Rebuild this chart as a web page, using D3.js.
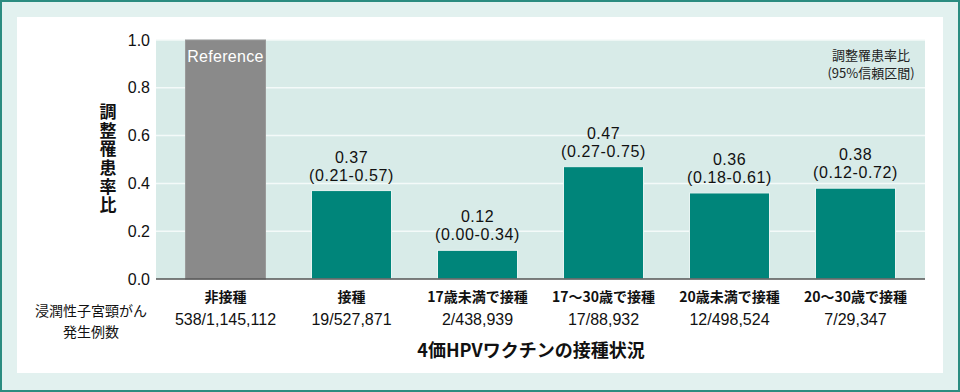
<!DOCTYPE html>
<html>
<head>
<meta charset="utf-8">
<script src="https://cdn.jsdelivr.net/npm/d3@7"></script>
<style>
  body { margin: 0; background: #fff; }
  svg { display: block; font-family: "Liberation Sans", "Noto Sans CJK JP", sans-serif; }
</style>
</head>
<body>
<svg id="chart" width="960" height="392"></svg>
<script>
const categories = ["非接種", "接種", "17歳未満で接種", "17〜30歳で接種", "20歳未満で接種", "20〜30歳で接種"];
const ratios = [1.0, 0.37, 0.12, 0.47, 0.36, 0.38];
const ciLabels = ["", "(0.21-0.57)", "(0.00-0.34)", "(0.27-0.75)", "(0.18-0.61)", "(0.12-0.72)"];
const caseCounts = ["538/1,145,112", "19/527,871", "2/438,939", "17/88,932", "12/498,524", "7/29,347"];
const yTicks = [0, 0.2, 0.4, 0.6, 0.8, 1.0];

const plot = { left: 156, right: 925, top: 40, bottom: 279 };
const jp = '"Noto Sans CJK JP", sans-serif';

const svg = d3.select("#chart");

// frame
svg.append("rect").attr("x", 1).attr("y", 1).attr("width", 958).attr("height", 390)
    .attr("fill", "#e2f1ef").attr("stroke", "#2b8c80").attr("stroke-width", 2);
svg.append("rect").attr("x", 17).attr("y", 17).attr("width", 926).attr("height", 356)
    .attr("fill", "#fff");

const x = d3.scaleBand()
    .domain(categories)
    .range([plot.left, plot.right])
    .paddingInner(0.365)
    .paddingOuter(0.234);

const y = d3.scaleLinear()
    .domain([0, 1])
    .range([plot.bottom, plot.top]);

// plot background
svg.append("rect")
    .attr("x", plot.left).attr("y", plot.top)
    .attr("width", plot.right - plot.left).attr("height", plot.bottom - plot.top)
    .attr("fill", "#d8ebe8");

// grid
svg.append("g").selectAll("line")
    .data(yTicks.slice(1))
    .enter().append("line")
    .attr("x1", plot.left).attr("x2", plot.right)
    .attr("y1", d => y(d)).attr("y2", d => y(d))
    .attr("stroke", "#f4faf9").attr("stroke-width", 1.5);

// y axis labels
const yAxis = d3.axisLeft(y).tickValues(yTicks).tickFormat(d3.format(".1f")).tickSize(0).tickPadding(6);
const yg = svg.append("g").attr("transform", `translate(${plot.left},0)`).call(yAxis);
yg.select(".domain").remove();
yg.selectAll("text").attr("font-size", 16).attr("fill", "#111")
    .attr("font-family", "Liberation Sans, sans-serif");

// bars
svg.append("g").selectAll("rect")
    .data(categories)
    .enter().append("rect")
    .attr("x", d => x(d))
    .attr("y", (d, i) => y(ratios[i]))
    .attr("width", x.bandwidth())
    .attr("height", (d, i) => plot.bottom - y(ratios[i]))
    .attr("fill", (d, i) => i === 0 ? "#8a8a8a" : "#00857a")
    .attr("stroke", (d, i) => i === 0 ? "#9a9a9a" : "#e8f4f2")
    .attr("stroke-width", 1);

// x axis line
svg.append("line")
    .attr("x1", plot.left).attr("x2", plot.right)
    .attr("y1", plot.bottom).attr("y2", plot.bottom)
    .attr("stroke", "#555").attr("stroke-width", 1.5);

// Reference text
svg.append("text")
    .attr("x", x(categories[0]) + x.bandwidth() / 2).attr("y", 62)
    .attr("text-anchor", "middle").attr("font-size", 16).attr("fill", "#fff")
    .attr("letter-spacing", 0.3)
    .text("Reference");

// value labels
const lab = svg.append("g").selectAll("g")
    .data(categories.slice(1))
    .enter().append("g");
lab.append("text")
    .attr("x", d => x(d) + x.bandwidth() / 2)
    .attr("y", (d, i) => y(ratios[i + 1]) - 28)
    .attr("text-anchor", "middle").attr("font-size", 16).attr("fill", "#111")
    .attr("letter-spacing", 0.5)
    .text((d, i) => ratios[i + 1].toFixed(2));
lab.append("text")
    .attr("x", d => x(d) + x.bandwidth() / 2)
    .attr("y", (d, i) => y(ratios[i + 1]) - 10)
    .attr("text-anchor", "middle").attr("font-size", 16).attr("fill", "#111")
    .attr("letter-spacing", 0.6)
    .text((d, i) => ciLabels[i + 1]);

// category labels
svg.append("g").selectAll("text")
    .data(categories)
    .enter().append("text")
    .attr("x", d => x(d) + x.bandwidth() / 2).attr("y", 302)
    .attr("text-anchor", "middle").attr("font-size", 14).attr("font-weight", "bold")
    .attr("font-family", jp).attr("fill", "#111")
    .text(d => d);

svg.append("g").selectAll("text")
    .data(categories)
    .enter().append("text")
    .attr("x", d => x(d) + x.bandwidth() / 2).attr("y", 325)
    .attr("text-anchor", "middle").attr("font-size", 16).attr("fill", "#111")
    .text((d, i) => caseCounts[i]);

// left row label
svg.append("text").attr("x", 91).attr("y", 316).attr("text-anchor", "middle")
    .attr("font-size", 14).attr("font-family", jp).attr("fill", "#111").text("浸潤性子宮頸がん");
svg.append("text").attr("x", 91).attr("y", 337).attr("text-anchor", "middle")
    .attr("font-size", 14).attr("font-family", jp).attr("fill", "#111").text("発生例数");

// x title
svg.append("text").attr("x", 531).attr("y", 357).attr("text-anchor", "middle")
    .attr("font-size", 18).attr("font-weight", "bold").attr("font-family", jp).attr("fill", "#111")
    .text("4価HPVワクチンの接種状況");

// y title (vertical)
svg.append("text")
    .attr("x", 108).attr("y", 103)
    .attr("font-size", 17).attr("font-weight", "bold").attr("font-family", jp)
    .attr("fill", "#111")
    .style("writing-mode", "vertical-rl")
    .style("text-orientation", "upright")
    .attr("letter-spacing", 1.7)
    .text("調整罹患率比");

// legend note
svg.append("text").attr("x", 871).attr("y", 60).attr("text-anchor", "middle")
    .attr("font-size", 13).attr("font-family", jp).attr("fill", "#222").text("調整罹患率比");
svg.append("text").attr("x", 871).attr("y", 78).attr("text-anchor", "middle")
    .attr("font-size", 13).attr("font-family", jp).attr("fill", "#222").text("(95%信頼区間)");
</script>
</body>
</html>
